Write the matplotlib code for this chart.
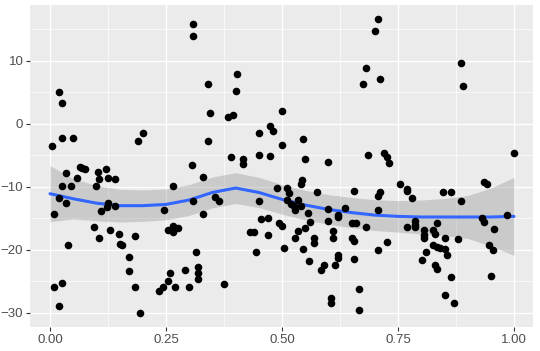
import numpy as np
import matplotlib
matplotlib.use("Agg")
import matplotlib.pyplot as plt
from matplotlib.ticker import MultipleLocator

# scatter points
x = [0.004, 0.009, 0.009, 0.019, 0.019, 0.020, 0.025, 0.025, 0.025, 0.025,
     0.034, 0.034, 0.039, 0.045, 0.049, 0.059, 0.064, 0.070, 0.075, 0.094,
     0.100, 0.104, 0.105, 0.105, 0.109, 0.120, 0.122, 0.124, 0.124, 0.129,
     0.141, 0.141, 0.149, 0.150, 0.155, 0.170, 0.170, 0.184, 0.184, 0.190,
     0.195, 0.200, 0.234, 0.244, 0.245, 0.254, 0.254, 0.259, 0.265, 0.265,
     0.265, 0.270, 0.275, 0.290, 0.300, 0.305, 0.309, 0.309, 0.309, 0.315,
     0.320, 0.320, 0.320, 0.329, 0.329, 0.340, 0.340, 0.344, 0.355, 0.365,
     0.375, 0.384, 0.390, 0.395, 0.400, 0.404, 0.415, 0.415, 0.430, 0.440,
     0.445, 0.450, 0.450, 0.450, 0.455, 0.470, 0.470, 0.475, 0.475, 0.480,
     0.490, 0.494, 0.500, 0.500, 0.500, 0.505, 0.510, 0.510, 0.515, 0.520,
     0.525, 0.529, 0.529, 0.535, 0.535, 0.540, 0.540, 0.544, 0.546, 0.546,
     0.549, 0.549, 0.555, 0.559, 0.560, 0.570, 0.570, 0.575, 0.585, 0.590,
     0.600, 0.600, 0.600, 0.605, 0.605, 0.610, 0.610, 0.615, 0.620, 0.620,
     0.620, 0.620, 0.635, 0.650, 0.650, 0.655, 0.655, 0.655, 0.660, 0.665,
     0.665, 0.675, 0.680, 0.681, 0.686, 0.700, 0.706, 0.706, 0.706, 0.706,
     0.711, 0.711, 0.720, 0.726, 0.730, 0.726, 0.755, 0.770, 0.770, 0.770,
     0.781, 0.786, 0.786, 0.786, 0.801, 0.806, 0.806, 0.806, 0.811, 0.826,
     0.826, 0.830, 0.830, 0.835, 0.835, 0.835, 0.841, 0.846, 0.851, 0.851,
     0.851, 0.856, 0.865, 0.865, 0.871, 0.880, 0.886, 0.886, 0.891, 0.931,
     0.935, 0.936, 0.941, 0.946, 0.951, 0.955, 0.956, 0.986, 1.000]
y = [-3.5, -14.3, -26.0, 5.1, -29.0, -11.8, 3.3, -2.2, -9.9, -25.3,
     -7.8, -12.5, -19.2, -9.9, -2.2, -8.6, -6.9, -7.0, -7.2, -16.4,
     -9.9, -7.7, -8.8, -18.1, -13.9, -7.2, -13.2, -12.6, -8.6, -16.9,
     -8.8, -13.1, -17.5, -19.1, -19.3, -21.1, -23.4, -17.8, -26.0, -2.7,
     -30.0, -1.5, -26.5, -26.0, -13.7, -16.9, -24.9, -23.7, -9.9, -16.2,
     -17.2, -26.0, -16.6, -23.2, -26.0, -6.5, 15.9, 13.9, -12.3, -20.4,
     -22.8, -23.7, -24.6, -8.5, -14.4, 6.4, -2.7, 1.8, -11.6, -12.3,
     -25.4, 1.1, -5.2, 1.4, 5.2, 8.0, -5.6, -6.3, -17.2, -17.2,
     -20.4, -1.5, -5.0, -12.3, -15.1, -14.9, -17.6, -0.3, -5.1, -1.2,
     -10.2, -15.8, 2.1, -3.3, -16.2, -19.7, -10.2, -12.1, -11.0, -12.7,
     -13.0, -13.7, -18.2, -12.1, -17.0, -13.0, -9.6, -8.9, -2.4, -19.9,
     -5.6, -16.6, -14.1, -21.8, -15.6, -18.1, -18.9, -10.9, -23.3, -22.4,
     -6.1, -13.6, -15.5, -27.7, -28.5, -17.0, -18.2, -22.4, -14.5, -14.8,
     -20.8, -21.3, -13.4, -15.8, -18.2, -10.6, -18.6, -21.4, -15.7, -26.2,
     -29.6, 6.3, -16.4, 8.9, -4.9, 14.7, 16.6, -13.7, -20.1, -11.5,
     7.1, -10.8, -4.7, -5.3, -6.2, -18.8, -9.6, -10.3, -10.7, -16.4,
     -11.8, -15.4, -16.0, -16.4, -21.7, -16.9, -17.6, -18.1, -20.4, -16.9,
     -19.2, -17.5, -22.5, -19.5, -15.8, -23.1, -19.7, -10.8, -27.2, -18.1,
     -19.9, -20.8, -10.8, -24.3, -28.4, -18.3, -12.3, 9.6, 6.0, -14.9,
     -15.6, -9.3, -9.6, -19.2, -24.2, -20.1, -16.7, -14.5, -4.7]

# smoother fit and its confidence band
fit_x = [0.00, 0.05, 0.10, 0.15, 0.20, 0.25, 0.30, 0.35, 0.40, 0.45, 0.50,
         0.55, 0.60, 0.65, 0.70, 0.75, 0.80, 0.85, 0.90, 0.95, 1.00]
fit_y = [-11.1, -11.9, -12.6, -13.0, -13.0, -12.8, -12.1, -10.9, -10.2, -10.9, -12.0,
         -12.9, -13.6, -14.1, -14.5, -14.7, -14.8, -14.8, -14.8, -14.8, -14.7]
fit_se = [4.45, 3.2, 2.8, 2.6, 2.5, 2.45, 2.45, 2.45, 2.45, 2.4, 2.35,
          2.35, 2.35, 2.4, 2.45, 2.5, 2.7, 2.95, 3.4, 4.6, 6.2]

x_ticks = [0.0, 0.25, 0.5, 0.75, 1.0]
x_labels = ["0.00", "0.25", "0.50", "0.75", "1.00"]
y_ticks = [-30, -20, -10, 0, 10]

plt.rcParams['font.family'] = ['Liberation Sans', 'DejaVu Sans']

fig = plt.figure(figsize=(5.4, 3.51), dpi=100)
ax = fig.add_axes([30 / 540, 0.068, 503 / 540, 0.918])
ax.set_facecolor('#EBEBEB')

fx = np.array(fit_x)
fy = np.array(fit_y)
fs = np.array(fit_se)
ax.fill_between(fx, fy - fs, fy + fs, color='#999999', alpha=0.4, linewidth=0, zorder=2)
ax.plot(fx, fy, color='#3366FF', linewidth=2.2, zorder=3, solid_capstyle='round')
ax.scatter(x, y, s=30, color='black', linewidths=0, zorder=4)

ax.set_xlim(-0.0431, 1.041)
ax.set_ylim(-32.3, 18.9)
ax.set_xticks(x_ticks)
ax.set_xticklabels(x_labels)
ax.set_yticks(y_ticks)
ax.xaxis.set_minor_locator(MultipleLocator(0.125))
ax.yaxis.set_minor_locator(MultipleLocator(5))

ax.grid(which='major', color='white', linewidth=1.0, zorder=0)
ax.grid(which='minor', color='white', linewidth=0.5, zorder=0)
ax.set_axisbelow(True)
for s in ax.spines.values():
    s.set_visible(False)

ax.tick_params(which='major', length=2.8, width=0.8, color='#333333',
               labelcolor='#4D4D4D', labelsize=9.5, pad=2)
ax.tick_params(which='minor', length=0)

fig.savefig('out.png', dpi=100)
